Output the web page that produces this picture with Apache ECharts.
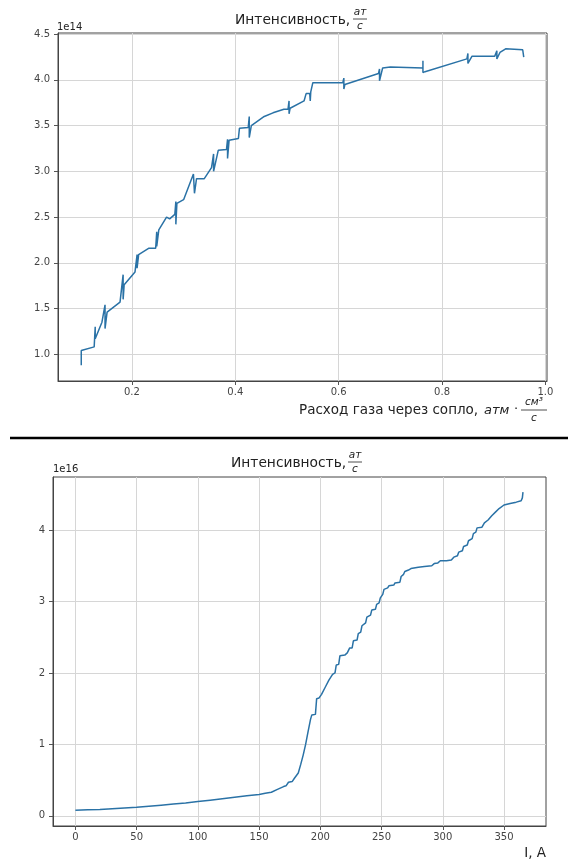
<!DOCTYPE html>
<html>
<head>
<meta charset="utf-8">
<script src="https://cdn.jsdelivr.net/npm/echarts@6/dist/echarts.min.js"></script>
<style>
html,body{margin:0;padding:0;background:#fff;}
#chart{width:568px;height:861px;}
</style>
</head>
<body>
<div id="chart"></div>
<script>
// ---- Top chart: gas flow (атм·см³/с) vs intensity (×1e14 ат/с)
var gasFlow = [0.102,0.102,0.127,0.129,0.129,0.142,0.148,0.148,0.152,0.177,0.183,0.183,0.185,0.206,0.209,0.210,0.210,0.213,0.233,0.246,0.248,0.248,0.252,0.267,0.273,0.283,0.285,0.285,0.287,0.300,0.319,0.321,0.325,0.340,0.354,0.358,0.358,0.367,0.383,0.385,0.385,0.388,0.406,0.408,0.425,0.427,0.427,0.431,0.456,0.473,0.494,0.502,0.504,0.504,0.506,0.533,0.537,0.544,0.545,0.546,0.550,0.608,0.610,0.610,0.612,0.677,0.679,0.679,0.685,0.700,0.763,0.763,0.763,0.767,0.848,0.850,0.850,0.858,0.902,0.906,0.906,0.912,0.923,0.956,0.958];
var intensityE14 = [0.88,1.04,1.08,1.30,1.17,1.35,1.54,1.28,1.46,1.57,1.87,1.60,1.76,1.90,1.92,2.09,1.94,2.09,2.16,2.16,2.34,2.18,2.36,2.50,2.48,2.53,2.67,2.42,2.65,2.69,2.97,2.76,2.92,2.92,3.04,3.19,3.00,3.23,3.24,3.35,3.14,3.34,3.36,3.47,3.48,3.60,3.37,3.50,3.60,3.64,3.68,3.68,3.77,3.63,3.69,3.77,3.85,3.85,3.77,3.87,3.97,3.97,4.02,3.90,3.95,4.07,4.12,3.99,4.13,4.14,4.13,4.21,4.08,4.09,4.23,4.29,4.18,4.26,4.26,4.32,4.23,4.30,4.34,4.33,4.25];
var topXTicks = [0.2,0.4,0.6,0.8,1.0];
var topYTicks = [1.0,1.5,2.0,2.5,3.0,3.5,4.0,4.5];

// ---- Bottom chart: current (A) vs intensity (×1e16 ат/с)
var current = [0,10,20,30,40,50,60,70,80,90,100,110,120,130,140,150,155,160,165,170,172,174,177,179,182,184,186,188,190,192,193,196,197,199,201,204,207,210,212,213,215,216,220,222,224,226,227,230,231,233,234,237,238,241,242,245,246,248,249,251,252,255,256,260,261,265,266,268,269,272,274,280,285,291,293,296,298,303,307,309,312,313,316,317,320,321,324,325,327,328,332,334,337,340,343,346,350,355,360,364,365,365.5];
var intensityE16 = [0.080,0.085,0.090,0.100,0.110,0.120,0.135,0.150,0.165,0.180,0.200,0.220,0.240,0.260,0.280,0.300,0.315,0.330,0.370,0.410,0.420,0.470,0.480,0.530,0.600,0.720,0.850,1.000,1.180,1.350,1.410,1.420,1.640,1.650,1.700,1.800,1.900,1.980,2.000,2.110,2.120,2.240,2.250,2.280,2.350,2.350,2.450,2.460,2.550,2.570,2.660,2.700,2.780,2.810,2.880,2.890,2.960,2.980,3.050,3.100,3.170,3.190,3.220,3.230,3.260,3.270,3.350,3.380,3.420,3.440,3.460,3.480,3.490,3.500,3.530,3.540,3.570,3.570,3.580,3.620,3.640,3.690,3.710,3.770,3.790,3.850,3.880,3.950,3.970,4.030,4.040,4.100,4.140,4.200,4.250,4.300,4.350,4.370,4.390,4.410,4.450,4.530];
var botXTicks = [0,50,100,150,200,250,300,350];
var botYTicks = [0,1,2,3,4];

function pairs(xs, ys){ var o=[]; for (var i=0;i<xs.length;i++) o.push([xs[i], ys[i]]); return o; }

var FONT = '"DejaVu Sans", sans-serif';
var LINE = '#2a72a6';
var TXT = '#222';

function axisCfg(gridIndex, min, max, ticks, fmt, margin){
  return {
    type:'value', gridIndex:gridIndex, min:min, max:max,
    axisLine:{show:true, onZero:false, lineStyle:{color:'#444', width:1}},
    axisTick:{show:true, inside:false, length:4, customValues:ticks, lineStyle:{color:'#555'}},
    axisLabel:{show:true, customValues:ticks, formatter:fmt, color:'#444', fontSize:10, fontFamily:FONT, margin:margin},
    splitLine:{show:true, lineStyle:{color:'#d6d6d6', width:1}}
  };
}

function frac(cx, yNum, yLine, yDen, num, den, halfW, fs){
  return [
    {type:'text', x:cx, y:yNum, style:{text:num, font:'italic '+fs+'px '+FONT, fill:TXT, align:'center', verticalAlign:'middle'}},
    {type:'line', shape:{x1:cx-halfW, y1:yLine, x2:cx+halfW, y2:yLine}, style:{stroke:TXT, lineWidth:0.8}},
    {type:'text', x:cx, y:yDen, style:{text:den, font:'italic '+fs+'px '+FONT, fill:TXT, align:'center', verticalAlign:'middle'}}
  ];
}
function txt(x, y, s, fs, align, extra){
  return {type:'text', x:x, y:y, style:{text:s, font:(extra||'')+fs+'px '+FONT, fill:TXT, align:align||'left', verticalAlign:'middle'}};
}

var graphics = [];
// top title
graphics.push(txt(235, 20, 'Интенсивность,', 13.8, 'left'));
graphics = graphics.concat(frac(360, 12, 19, 26, 'ат', 'с', 7, 10.5));
graphics.push(txt(57, 27, '1e14', 10, 'left'));
// top x label
graphics.push(txt(299, 410, 'Расход газа через сопло,', 13.5, 'left'));
graphics.push(txt(484, 411, 'атм', 13, 'left', 'italic '));
graphics.push(txt(516, 410, '·', 13, 'center'));
graphics = graphics.concat(frac(534, 402, 410, 418, 'см³', 'с', 13, 10.5));
// divider
graphics.push({type:'line', shape:{x1:10, y1:438, x2:568, y2:438}, style:{stroke:'#000', lineWidth:2.5}});
// bottom title
graphics.push(txt(231, 463, 'Интенсивность,', 13.8, 'left'));
graphics = graphics.concat(frac(355, 455, 462, 469, 'ат', 'с', 7, 10.5));
graphics.push(txt(53, 469, '1e16', 10, 'left'));
// bottom x label
graphics.push(txt(546, 853, 'I, A', 13.5, 'right'));

var option = {
  animation:false,
  backgroundColor:'#fff',
  grid:[
    {left:58, top:33, width:489, height:348, show:true, borderColor:'#444', borderWidth:1, backgroundColor:'transparent'},
    {left:53, top:477, width:493, height:349, show:true, borderColor:'#444', borderWidth:1, backgroundColor:'transparent'}
  ],
  xAxis:[
    axisCfg(0, 0.057, 1.003, topXTicks, function(v){return v.toFixed(1);}, 6),
    axisCfg(1, -18.3, 384.3, botXTicks, function(v){return String(Math.round(v));}, 6)
  ],
  yAxis:[
    axisCfg(0, 0.707, 4.513, topYTicks, function(v){return v.toFixed(1);}, 8),
    axisCfg(1, -0.142, 4.742, botYTicks, function(v){return String(Math.round(v));}, 8)
  ],
  series:[
    {type:'line', xAxisIndex:0, yAxisIndex:0, data:pairs(gasFlow, intensityE14), showSymbol:false, symbol:'none', lineStyle:{color:LINE, width:1.5}, z:5},
    {type:'line', xAxisIndex:1, yAxisIndex:1, data:pairs(current, intensityE16), showSymbol:false, symbol:'none', lineStyle:{color:LINE, width:1.5}, z:5}
  ],
  graphic:{elements:graphics}
};

var chart = echarts.init(document.getElementById('chart'), null, {renderer:'canvas'});
chart.setOption(option);
</script>
</body>
</html>
